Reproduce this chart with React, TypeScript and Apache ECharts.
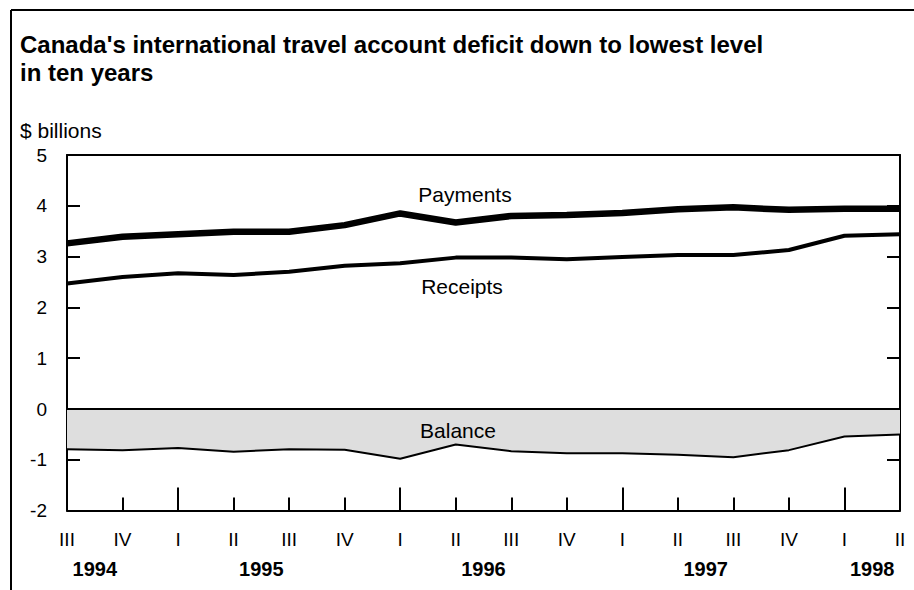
import React, { useEffect, useRef } from "react";
import * as echarts from "echarts";

const quarters = ["III", "IV", "I", "II", "III", "IV", "I", "II", "III", "IV", "I", "II", "III", "IV", "I", "II"];
const quarterYears = [1994, 1994, 1995, 1995, 1995, 1995, 1996, 1996, 1996, 1996, 1997, 1997, 1997, 1997, 1998, 1998];
const payments = [3.26, 3.39, 3.44, 3.49, 3.49, 3.62, 3.85, 3.67, 3.8, 3.82, 3.86, 3.93, 3.97, 3.92, 3.94, 3.94];
const receipts = [2.47, 2.6, 2.67, 2.64, 2.7, 2.82, 2.87, 2.98, 2.98, 2.95, 2.99, 3.03, 3.03, 3.13, 3.41, 3.44];
const balance = [-0.79, -0.81, -0.77, -0.84, -0.79, -0.8, -0.98, -0.7, -0.83, -0.87, -0.87, -0.9, -0.95, -0.81, -0.54, -0.5];
const yTicks = { min: -2, max: 5, interval: 1 };

const titleLines = ["Canada's international travel account deficit down to lowest level", "in ten years"];
const unitLabel = "$ billions";
const seriesNames = ["Payments", "Receipts", "Balance"];

const FONT = '"Liberation Sans", Arial, Helvetica, sans-serif';

export default function App() {
  const ref = useRef<HTMLDivElement>(null);
  useEffect(() => {
    if (!ref.current) return;
    const chart = echarts.init(ref.current, null, { renderer: "svg" });

    // half-step axis for centred year labels
    const halfSteps = Array.from({ length: quarters.length * 2 - 1 }, (_, i) => String(i));
    const yearAtHalf: Record<number, string> = {};
    const years = Array.from(new Set(quarterYears));
    years.forEach((y) => {
      const first = quarterYears.indexOf(y);
      const last = quarterYears.lastIndexOf(y);
      yearAtHalf[first + last] = String(y);
    });

    const black = "#000";
    const option: any = {
      animation: false,
      backgroundColor: "#fff",
      textStyle: { fontFamily: FONT },
      grid: { left: 67, top: 155, right: 14, bottom: 79.4, containLabel: false },
      xAxis: [
        {
          type: "category",
          data: quarters,
          boundaryGap: false,
          position: "bottom",
          axisLine: { show: true, onZero: false, lineStyle: { color: black, width: 2 } },
          axisTick: { show: true, inside: true, length: 13, interval: 0, lineStyle: { color: black, width: 2 } },
          axisLabel: { show: true, interval: 0, margin: 19, color: black, fontSize: 19, fontFamily: FONT },
          splitLine: { show: false },
        },
        {
          type: "category",
          data: quarters,
          boundaryGap: false,
          position: "bottom",
          axisLine: { show: false, onZero: false },
          axisTick: {
            show: true,
            inside: true,
            length: 23,
            interval: (index: number) => quarters[index] === "I",
            lineStyle: { color: black, width: 2 },
          },
          axisLabel: { show: false },
          splitLine: { show: false },
        },
        {
          type: "category",
          data: halfSteps,
          boundaryGap: false,
          position: "bottom",
          axisLine: { show: false, onZero: false },
          axisTick: { show: false },
          axisLabel: {
            show: true,
            interval: 0,
            margin: 48,
            color: black,
            fontSize: 20,
            fontWeight: "bold",
            fontFamily: FONT,
            formatter: (v: string) => yearAtHalf[Number(v)] || "",
          },
          splitLine: { show: false },
        },
        {
          type: "category",
          data: quarters,
          boundaryGap: false,
          position: "top",
          axisLine: { show: true, onZero: false, lineStyle: { color: black, width: 2 } },
          axisTick: { show: false },
          axisLabel: { show: false },
          splitLine: { show: false },
        },
      ],
      yAxis: [
        {
          type: "value",
          position: "left",
          ...yTicks,
          axisLine: { show: true, onZero: false, lineStyle: { color: black, width: 2 } },
          axisTick: { show: true, inside: true, length: 13, lineStyle: { color: black, width: 2 } },
          axisLabel: { show: true, margin: 20, color: black, fontSize: 19, fontFamily: FONT, padding: [3, 0, 0, 0] },
          splitLine: { show: false },
        },
        {
          type: "value",
          position: "right",
          ...yTicks,
          axisLine: { show: true, onZero: false, lineStyle: { color: black, width: 2 } },
          axisTick: { show: true, inside: true, length: 13, lineStyle: { color: black, width: 2 } },
          axisLabel: { show: false },
          splitLine: { show: false },
        },
      ],
      series: [
        {
          name: seriesNames[2],
          type: "line",
          xAxisIndex: 0,
          yAxisIndex: 0,
          data: balance,
          symbol: "none",
          lineStyle: { color: black, width: 2 },
          areaStyle: { color: "#dedede", opacity: 1 },
          z: 2,
          markLine: {
            silent: true,
            symbol: ["none", "none"],
            label: { show: false },
            lineStyle: { color: black, width: 2, type: "solid" },
            data: [{ yAxis: 0 }],
          },
        },
        {
          name: seriesNames[1],
          type: "line",
          xAxisIndex: 0,
          yAxisIndex: 0,
          data: receipts,
          symbol: "none",
          lineStyle: { color: black, width: 4 },
          z: 3,
        },
        {
          name: seriesNames[0],
          type: "line",
          xAxisIndex: 0,
          yAxisIndex: 0,
          data: payments,
          symbol: "none",
          lineStyle: { color: black, width: 6.5 },
          z: 4,
        },
      ],
      graphic: [
        { type: "line", shape: { x1: 11, y1: 10, x2: 914, y2: 10 }, style: { stroke: black, lineWidth: 2 } },
        { type: "line", shape: { x1: 11, y1: 10, x2: 11, y2: 590 }, style: { stroke: black, lineWidth: 2 } },
        {
          type: "text",
          x: 20,
          y: 44,
          style: { text: titleLines[0], font: `bold 24px ${FONT}`, fill: black, textVerticalAlign: "middle" },
        },
        {
          type: "text",
          x: 20,
          y: 72,
          style: { text: titleLines[1], font: `bold 24px ${FONT}`, fill: black, textVerticalAlign: "middle" },
        },
        {
          type: "text",
          x: 20,
          y: 130,
          style: { text: unitLabel, font: `21px ${FONT}`, fill: black, textVerticalAlign: "middle" },
        },
        {
          type: "text",
          x: 465,
          y: 194,
          style: { text: seriesNames[0], font: `21px ${FONT}`, fill: black, textAlign: "center", textVerticalAlign: "middle" },
        },
        {
          type: "text",
          x: 462,
          y: 286,
          style: { text: seriesNames[1], font: `21px ${FONT}`, fill: black, textAlign: "center", textVerticalAlign: "middle" },
        },
        {
          type: "text",
          x: 458,
          y: 430,
          z: 10,
          style: { text: seriesNames[2], font: `21px ${FONT}`, fill: black, textAlign: "center", textVerticalAlign: "middle" },
        },
      ],
    };
    chart.setOption(option);
    return () => chart.dispose();
  }, []);

  return (
    <div
      ref={ref}
      style={{ position: "fixed", left: 0, top: 0, width: 914, height: 590, background: "#fff" }}
    />
  );
}
